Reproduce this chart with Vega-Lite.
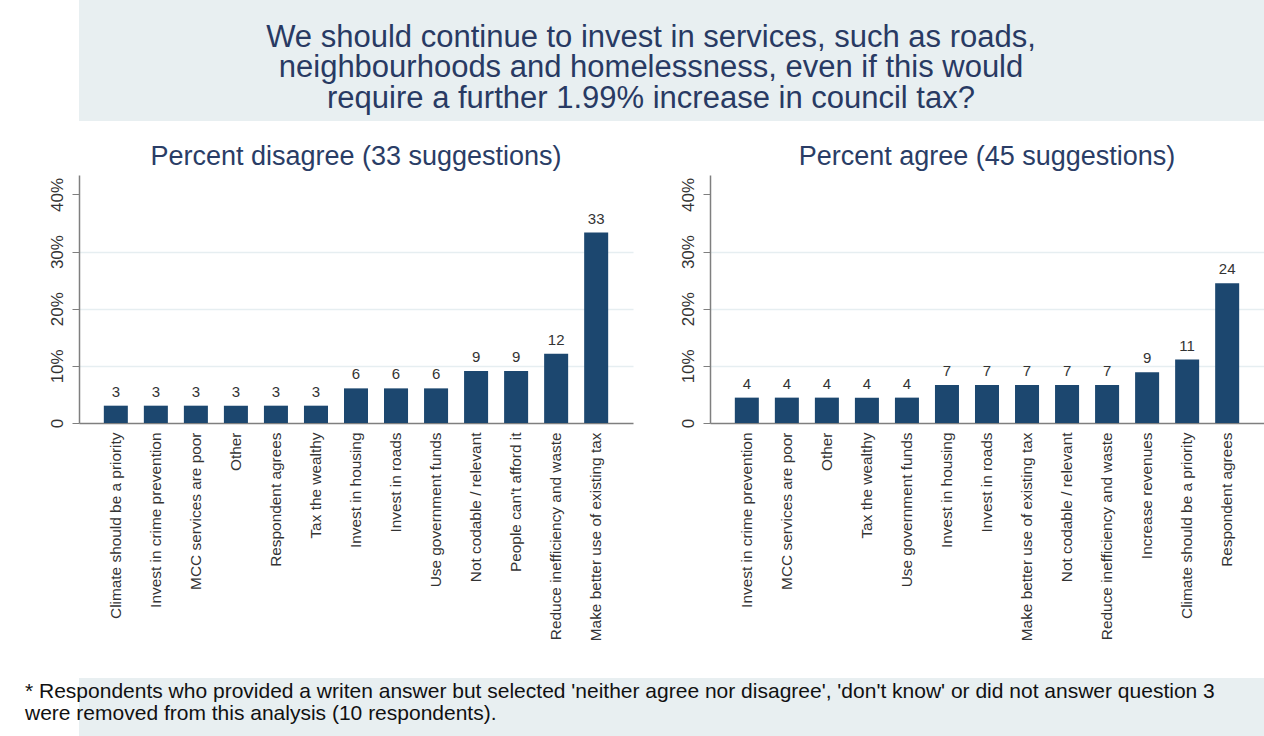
{
  "$schema": "https://vega.github.io/schema/vega-lite/v6.json",
  "background": "white",
  "padding": 0,
  "spacing": 22,
  "config": {
    "font": "Liberation Sans",
    "view": {"stroke": null}
  },
  "datasets": {
    "disagree": [
      {"category": "Climate should be a priority", "pct": 3.03},
      {"category": "Invest in crime prevention", "pct": 3.03},
      {"category": "MCC services are poor", "pct": 3.03},
      {"category": "Other", "pct": 3.03},
      {"category": "Respondent agrees", "pct": 3.03},
      {"category": "Tax the wealthy", "pct": 3.03},
      {"category": "Invest in housing", "pct": 6.06},
      {"category": "Invest in roads", "pct": 6.06},
      {"category": "Use government funds", "pct": 6.06},
      {"category": "Not codable / relevant", "pct": 9.09},
      {"category": "People can't afford it", "pct": 9.09},
      {"category": "Reduce inefficiency and waste", "pct": 12.12},
      {"category": "Make better use of existing tax", "pct": 33.33}
    ],
    "agree": [
      {"category": "Invest in crime prevention", "pct": 4.44},
      {"category": "MCC services are poor", "pct": 4.44},
      {"category": "Other", "pct": 4.44},
      {"category": "Tax the wealthy", "pct": 4.44},
      {"category": "Use government funds", "pct": 4.44},
      {"category": "Invest in housing", "pct": 6.67},
      {"category": "Invest in roads", "pct": 6.67},
      {"category": "Make better use of existing tax", "pct": 6.67},
      {"category": "Not codable / relevant", "pct": 6.67},
      {"category": "Reduce inefficiency and waste", "pct": 6.67},
      {"category": "Increase revenues", "pct": 8.89},
      {"category": "Climate should be a priority", "pct": 11.11},
      {"category": "Respondent agrees", "pct": 24.44}
    ]
  },
  "vconcat": [
    {
      "width": 1185,
      "height": 121,
      "view": {"fill": "#e8eff1", "stroke": null},
      "data": {"values": [{"t": "We should continue to invest in services, such as roads,\nneighbourhoods and homelessness, even if this would\nrequire a further 1.99% increase in council tax?"}]},
      "mark": {"type": "text", "lineBreak": "\n", "fontSize": 31, "lineHeight": 30.5, "color": "#283a63", "align": "center", "baseline": "alphabetic", "dx": -20.5, "dy": -14},
      "encoding": {
        "text": {"field": "t", "type": "nominal"},
        "y": {"datum": 0.5, "type": "quantitative", "scale": {"domain": [0, 1]}, "axis": {"labels": false, "ticks": false, "domain": false, "grid": false, "title": null, "minExtent": 79}}
      }
    },
    {
      "hconcat": [
        {
          "width": 554,
          "height": 248,
          "data": {"name": "disagree"},
          "title": {"text": "Percent disagree (33 suggestions)", "fontSize": 27, "fontWeight": "normal", "color": "#2a3d66", "offset": 4, "anchor": "middle"},
          "encoding": {
            "x": {"field": "category", "type": "nominal", "sort": null, "title": null,
              "scale": {"paddingInner": 0.4, "paddingOuter": 0.62},
              "axis": {"labelAngle": 270, "labelFontSize": 15.4, "labelColor": "#333", "ticks": false, "labelPadding": 9, "domainColor": "#7f7f7f", "domainWidth": 1.5, "minExtent": 233, "labelLimit": 400}},
            "y": {"field": "pct", "type": "quantitative", "title": null,
              "scale": {"domain": [0, 43.4], "nice": false},
              "axis": {"values": [0, 10, 20, 30, 40], "labelExpr": "datum.value == 0 ? '0' : datum.value + '%'", "labelAngle": 270, "labelAlign": "center", "labelBaseline": "bottom", "labelFontSize": 17, "labelColor": "#333", "tickSize": 7, "tickColor": "#7f7f7f", "domainColor": "#7f7f7f", "domainWidth": 1.5, "labelPadding": 6, "minExtent": 79, "gridColor": "#e6eef1", "gridWidth": 1.5, "gridOpacity": {"condition": {"test": "datum.value == 0 || datum.value == 40", "value": 0}, "value": 1}}}
          },
          "layer": [
            {"mark": {"type": "bar", "color": "#1c476f"}},
            {"mark": {"type": "text", "baseline": "alphabetic", "dy": -9, "fontSize": 15, "color": "#333"},
             "encoding": {"text": {"field": "pct", "type": "quantitative", "format": ".0f"}}}
          ]
        },
        {
          "width": 554,
          "height": 248,
          "data": {"name": "agree"},
          "title": {"text": "Percent agree (45 suggestions)", "fontSize": 27, "fontWeight": "normal", "color": "#2a3d66", "offset": 4, "anchor": "middle"},
          "encoding": {
            "x": {"field": "category", "type": "nominal", "sort": null, "title": null,
              "scale": {"paddingInner": 0.4, "paddingOuter": 0.62},
              "axis": {"labelAngle": 270, "labelFontSize": 15.4, "labelColor": "#333", "ticks": false, "labelPadding": 9, "domainColor": "#7f7f7f", "domainWidth": 1.5, "minExtent": 233, "labelLimit": 400}},
            "y": {"field": "pct", "type": "quantitative", "title": null,
              "scale": {"domain": [0, 43.4], "nice": false},
              "axis": {"values": [0, 10, 20, 30, 40], "labelExpr": "datum.value == 0 ? '0' : datum.value + '%'", "labelAngle": 270, "labelAlign": "center", "labelBaseline": "bottom", "labelFontSize": 17, "labelColor": "#333", "tickSize": 7, "tickColor": "#7f7f7f", "domainColor": "#7f7f7f", "domainWidth": 1.5, "labelPadding": 6, "minExtent": 77, "gridColor": "#e6eef1", "gridWidth": 1.5, "gridOpacity": {"condition": {"test": "datum.value == 0 || datum.value == 40", "value": 0}, "value": 1}}}
          },
          "layer": [
            {"mark": {"type": "bar", "color": "#1c476f"}},
            {"mark": {"type": "text", "baseline": "alphabetic", "dy": -9, "fontSize": 15, "color": "#333"},
             "encoding": {"text": {"field": "pct", "type": "quantitative", "format": ".0f"}}}
          ]
        }
      ],
      "spacing": 0
    },
    {
      "width": 1185,
      "height": 59,
      "view": {"fill": "#e8eff1", "stroke": null},
      "data": {"values": [{"t": "* Respondents who provided a writen answer but selected 'neither agree nor disagree', 'don't know' or did not answer question 3\nwere removed from this analysis (10 respondents)."}]},
      "mark": {"type": "text", "lineBreak": "\n", "fontSize": 21, "lineHeight": 22, "color": "#111", "align": "left", "baseline": "alphabetic", "dx": -54, "dy": -9.5},
      "encoding": {
        "text": {"field": "t", "type": "nominal"},
        "x": {"datum": 0, "type": "quantitative", "scale": {"domain": [0, 1]}, "axis": null},
        "y": {"datum": 0.5, "type": "quantitative", "scale": {"domain": [0, 1]}, "axis": {"labels": false, "ticks": false, "domain": false, "grid": false, "title": null, "minExtent": 79}}
      }
    }
  ]
}
